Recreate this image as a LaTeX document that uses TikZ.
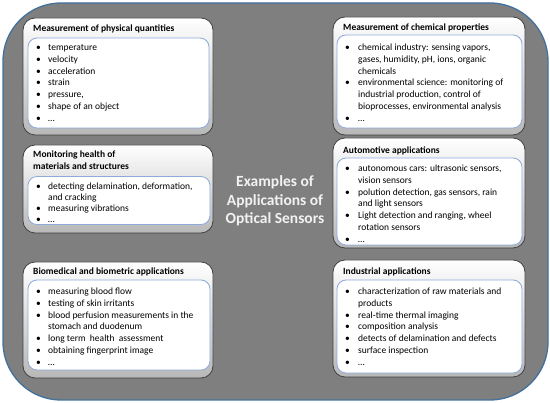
\documentclass[tikz,border=0pt]{standalone}
\usepackage{fontspec}
\setmainfont{Carlito}
\usetikzlibrary{shadows}
\definecolor{bggray}{HTML}{7F7F7F}
\definecolor{bgblue}{HTML}{41719C}
\definecolor{inblue}{HTML}{8EAADB}
\definecolor{ctext}{HTML}{F2F2F2}
\newcommand\blt{\textbullet}
\tikzset{
  outerbox/.style={draw=black!75, line width=0.8pt, rounded corners=12pt,
    top color=white, bottom color=black!28,
    drop shadow={shadow xshift=0.5pt, shadow yshift=-2pt, opacity=0.6}},
  innerbox/.style={draw=inblue, line width=0.8pt, fill=white, rounded corners=9pt},
  titletext/.style={anchor=west, inner sep=0pt, font=\fontsize{9.5}{11.7}\selectfont\bfseries, align=left},
  listtext/.style={anchor=north west, inner sep=0pt, font=\fontsize{9.5}{11.7}\selectfont},
  centertext/.style={font=\fontsize{15.5}{18.5}\selectfont\bfseries, text=ctext, align=center}
}
\begin{document}
\begin{tikzpicture}[x=1pt,y=-1pt]
\useasboundingbox (0,0) rectangle (550,403);
\node[draw=bgblue, line width=1.3pt, fill=bggray, rounded corners=58pt, minimum width=545pt, minimum height=397pt, inner sep=0pt] (bg) at (275.5,201.5) {};

% ---- Left column
% A
\path[outerbox] (23,18) rectangle (213,135);
\node[innerbox, minimum width=181pt, minimum height=90pt, inner sep=0pt] (Ai) at (118.5,83) {};
\node[titletext] (At) at (33,29) {Measurement of physical quantities};
\node[listtext] (Al) at (36,42.5) {\begin{tabular}{@{}p{12pt}@{}l@{}}
\blt & temperature\\
\blt & velocity\\
\blt & acceleration\\
\blt & strain\\
\blt & pressure,\\
\blt & shape of an object\\
\blt & \dots
\end{tabular}};

% B
\path[outerbox] (23,145) rectangle (213,233);
\node[innerbox, minimum width=182pt, minimum height=48pt, inner sep=0pt] (Bi) at (119,200.5) {};
\node[titletext] (Bt) at (33,160) {Monitoring health of\\materials and structures};
\node[listtext, font=\fontsize{9.5}{11.2}\selectfont] (Bl) at (36,181) {\begin{tabular}{@{}p{12pt}@{}l@{}}
\blt & detecting delamination, deformation,\\
 & and cracking\\
\blt & measuring vibrations\\
\blt & \dots
\end{tabular}};

% C
\path[outerbox] (23,262) rectangle (213,378);
\node[innerbox, minimum width=182pt, minimum height=90pt, inner sep=0pt] (Ci) at (119,325) {};
\node[titletext] (Ct) at (33,272) {Biomedical and biometric applications};
\node[listtext] (Cl) at (36,286.5) {\begin{tabular}{@{}p{12pt}@{}l@{}}
\blt & measuring blood flow\\
\blt & testing of skin irritants\\
\blt & blood perfusion measurements in the\\
 & stomach and duodenum\\
\blt & long term\ \ health\ \ assessment\\
\blt & obtaining fingerprint image\\
\blt & \dots
\end{tabular}};

% ---- Right column
% D
\path[outerbox] (333,17) rectangle (525,135);
\node[innerbox, minimum width=185pt, minimum height=93pt, inner sep=0pt] (Di) at (429.5,81.5) {};
\node[titletext] (Dt) at (343,28) {Measurement of chemical properties};
\node[listtext] (Dl) at (345,42.5) {\begin{tabular}{@{}p{13pt}@{}l@{}}
\blt & chemical industry: sensing vapors,\\
 & gases, humidity, pH, ions, organic\\
 & chemicals\\
\blt & environmental science: monitoring of\\
 & industrial production, control of\\
 & bioprocesses, environmental analysis\\
\blt & \dots
\end{tabular}};

% E
\path[outerbox] (333,138) rectangle (525,248);
\node[innerbox, minimum width=185pt, minimum height=87pt, inner sep=0pt] (Ei) at (429.5,201.5) {};
\node[titletext] (Et) at (343,151) {Automotive applications};
\node[listtext] (El) at (345,163.5) {\begin{tabular}{@{}p{13pt}@{}l@{}}
\blt & autonomous cars: ultrasonic sensors,\\
 & vision sensors\\
\blt & polution detection, gas sensors, rain\\
 & and light sensors\\
\blt & Light detection and ranging, wheel\\
 & rotation sensors\\
\blt & \dots
\end{tabular}};

% F
\path[outerbox] (333,260) rectangle (525,377);
\node[innerbox, minimum width=185pt, minimum height=93pt, inner sep=0pt] (Fi) at (429.5,326.5) {};
\node[titletext] (Ft) at (343,272) {Industrial applications};
\node[listtext] (Fl) at (345,286.5) {\begin{tabular}{@{}p{13pt}@{}l@{}}
\blt & characterization of raw materials and\\
 & products\\
\blt & real-time thermal imaging\\
\blt & composition analysis\\
\blt & detects of delamination and defects\\
\blt & surface inspection\\
\blt & \dots
\end{tabular}};

% Center
\node[centertext] (ct) at (275,201) {Examples of\\Applications of\\Optical Sensors};
\end{tikzpicture}
\end{document}
